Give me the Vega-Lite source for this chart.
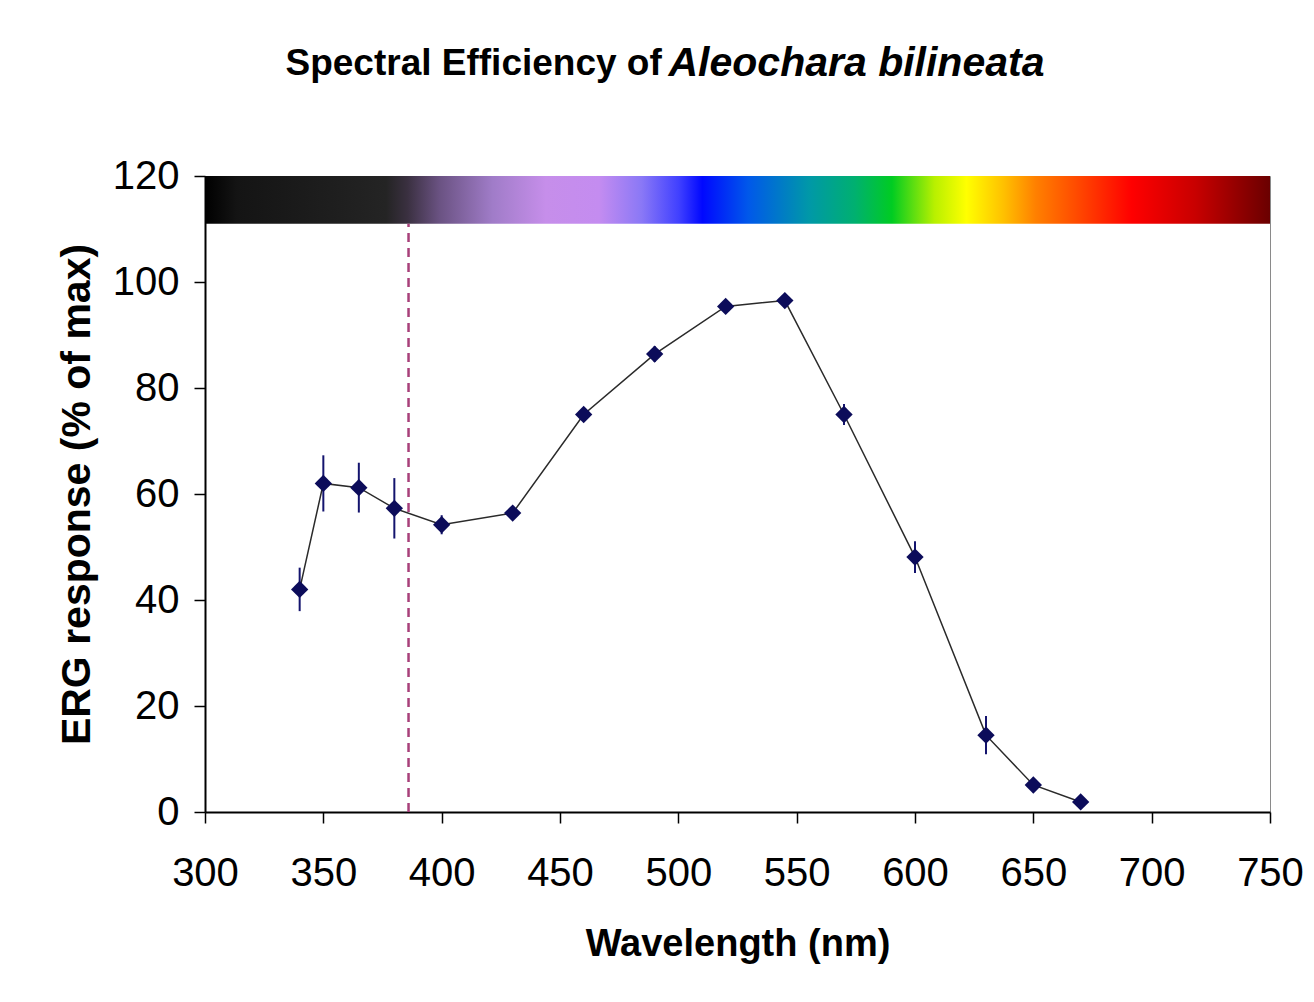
{
  "$schema": "https://vega.github.io/schema/vega-lite/v6.json",
  "autosize": "none",
  "width": 1065,
  "height": 636,
  "padding": {"left": 205, "top": 176, "right": 44, "bottom": 190},
  "background": "white",
  "config": {
    "view": {"stroke": "#8a8a8a", "strokeWidth": 1},
    "axis": {
      "labelFont": "Liberation Sans",
      "titleFont": "Liberation Sans",
      "labelColor": "#000000",
      "titleColor": "#000000",
      "domainColor": "#000000",
      "tickColor": "#000000",
      "grid": false,
      "labelFlush": false,
      "labelOverlap": false
    }
  },
  "data": {
    "values": [
      {"wl": 340, "erg": 42, "err": 4.1},
      {"wl": 350, "erg": 62, "err": 5.3},
      {"wl": 365, "erg": 61.2, "err": 4.7},
      {"wl": 380, "erg": 57.3, "err": 5.7},
      {"wl": 400, "erg": 54.2, "err": 1.8},
      {"wl": 430, "erg": 56.4, "err": 1},
      {"wl": 460, "erg": 75, "err": 1},
      {"wl": 490, "erg": 86.4, "err": 1.5},
      {"wl": 520, "erg": 95.4, "err": 1},
      {"wl": 545, "erg": 96.5, "err": 1},
      {"wl": 570, "erg": 75, "err": 2},
      {"wl": 600, "erg": 48.1, "err": 3},
      {"wl": 630, "erg": 14.5, "err": 3.6},
      {"wl": 650, "erg": 5.1, "err": 1},
      {"wl": 670, "erg": 1.9, "err": 0.8}
    ]
  },
  "resolve": {"axis": {"x": "independent", "y": "independent"}},
  "layer": [
    {
      "data": {"values": [{"from": 300, "to": 750, "low": 111, "high": 120}]},
      "mark": {
        "type": "rect",
        "fill": {
          "gradient": "linear",
          "x1": 0, "y1": 0, "x2": 1, "y2": 0,
          "stops": [
            {"offset": 0, "color": "#000000"},
            {"offset": 0.03, "color": "#141414"},
            {"offset": 0.17, "color": "#242424"},
            {"offset": 0.19, "color": "#3a3040"},
            {"offset": 0.22, "color": "#6a5282"},
            {"offset": 0.27, "color": "#a07cc8"},
            {"offset": 0.32, "color": "#c68eea"},
            {"offset": 0.37, "color": "#c48cf0"},
            {"offset": 0.41, "color": "#8a78f6"},
            {"offset": 0.445, "color": "#4040ff"},
            {"offset": 0.467, "color": "#0008ff"},
            {"offset": 0.51, "color": "#0058ea"},
            {"offset": 0.567, "color": "#0098a8"},
            {"offset": 0.61, "color": "#00b070"},
            {"offset": 0.645, "color": "#00cc22"},
            {"offset": 0.685, "color": "#b8f000"},
            {"offset": 0.715, "color": "#ffff00"},
            {"offset": 0.75, "color": "#ffc000"},
            {"offset": 0.78, "color": "#ff8000"},
            {"offset": 0.82, "color": "#ff4800"},
            {"offset": 0.87, "color": "#ff0000"},
            {"offset": 0.93, "color": "#c80000"},
            {"offset": 1, "color": "#6a0000"}
          ]
        }
      },
      "encoding": {
        "x": {
          "field": "from", "type": "quantitative",
          "scale": {"domain": [300, 750], "nice": false},
          "axis": {
            "orient": "top", "domain": false, "ticks": false, "labels": false,
            "title": "Spectral Efficiency of",
            "titleFontSize": 37, "titleFontWeight": "bold",
            "titleAngle": 0, "titleAlign": "left", "titleBaseline": "middle",
            "titleX": 80, "titleY": -113
          }
        },
        "x2": {"field": "to"},
        "y": {"field": "low", "type": "quantitative", "scale": {"domain": [0, 120], "nice": false}, "axis": null},
        "y2": {"field": "high"}
      }
    },
    {
      "data": {"values": [{"cutoff": 386, "base": 0, "top": 111}]},
      "mark": {"type": "rule", "color": "#a8407a", "strokeWidth": 2.5, "strokeDash": [9, 6]},
      "encoding": {
        "x": {
          "field": "cutoff", "type": "quantitative",
          "axis": {
            "orient": "top", "domain": false, "ticks": false, "labels": false,
            "title": "Aleochara bilineata",
            "titleFontSize": 41, "titleFontWeight": "bold", "titleFontStyle": "italic",
            "titleAngle": 0, "titleAlign": "left", "titleBaseline": "middle",
            "titleX": 463, "titleY": -113
          }
        },
        "y": {"field": "base", "type": "quantitative", "axis": null},
        "y2": {"field": "top"}
      }
    },
    {
      "mark": {"type": "errorbar", "color": "#14146e", "thickness": 2},
      "encoding": {
        "x": {"field": "wl", "type": "quantitative", "axis": null},
        "y": {"field": "erg", "type": "quantitative", "axis": null},
        "yError": {"field": "err"}
      }
    },
    {
      "mark": {"type": "line", "color": "#2a2a2a", "strokeWidth": 1.5},
      "encoding": {
        "x": {
          "field": "wl", "type": "quantitative",
          "axis": {
            "orient": "bottom",
            "values": [300, 350, 400, 450, 500, 550, 600, 650, 700, 750],
            "title": "Wavelength (nm)",
            "labelFontSize": 40, "titleFontSize": 38, "titleFontWeight": "bold",
            "tickSize": 11, "tickWidth": 1.5, "domainWidth": 2,
            "labelPadding": 30, "titlePadding": 32
          }
        },
        "y": {
          "field": "erg", "type": "quantitative",
          "axis": {
            "orient": "left",
            "values": [0, 20, 40, 60, 80, 100, 120],
            "title": "ERG response (% of max)",
            "labelFontSize": 40, "titleFontSize": 41, "titleFontWeight": "bold",
            "tickSize": 11, "tickWidth": 1.5, "domainWidth": 2,
            "labelPadding": 15, "titlePadding": 14
          }
        }
      }
    },
    {
      "mark": {"type": "point", "shape": "diamond", "filled": true, "color": "#0c0c5a", "size": 300, "opacity": 1},
      "encoding": {
        "x": {"field": "wl", "type": "quantitative", "axis": null},
        "y": {"field": "erg", "type": "quantitative", "axis": null}
      }
    }
  ]
}
